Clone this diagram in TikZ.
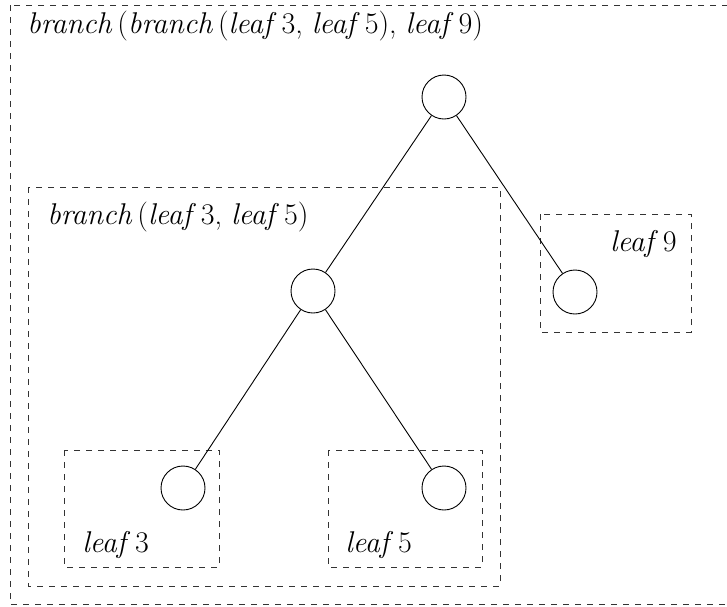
\documentclass[tikz,border=0pt]{standalone}
\usepackage{fontspec}
\usepackage{tikz}
\usetikzlibrary{positioning}

\newcommand{\fn}[1]{\textit{#1}\,}

\begin{document}
\begin{tikzpicture}[x=1pt,y=-1pt,semithick,
        vertex/.style={circle, draw, line width=0.9pt, minimum size=44pt, inner sep=0pt},
        frame/.style={draw=black!80, line width=0.6pt, dash pattern=on 6pt off 6pt},
        tag/.style={inner sep=0pt, font=\fontsize{30}{36}\selectfont}]

        \useasboundingbox (0,0) rectangle (727,606);

        % boxes
        \draw[frame] (10,5)    rectangle (760,604);
        \draw[frame] (28,187)  rectangle (500,586);
        \draw[frame] (64,450)  rectangle (219,567);
        \draw[frame] (328,450) rectangle (482,567);
        \draw[frame] (540,214) rectangle (691,332);

        % labels
        \node[tag, anchor=base west] (t0) at (27,33)  {\fn{branch}(\fn{branch}(\fn{leaf}3, \fn{leaf}5), \fn{leaf}9)};
        \node[tag, anchor=base west] (t1) at (47,224) {\fn{branch}(\fn{leaf}3, \fn{leaf}5)};
        \node[tag, anchor=base east] (t9) at (677,251) {\fn{leaf}9};
        \node[tag, anchor=base west] (t3) at (82,552)  {\fn{leaf}3};
        \node[tag, anchor=base west] (t5) at (345,552) {\fn{leaf}5};

        % tree
        \node[vertex] (root) at (444,97)  {};
        \node[vertex] (mid)  at (313,291) {};
        \node[vertex] (l9)   at (575,292) {};
        \node[vertex] (l3)   at (183,488) {};
        \node[vertex] (l5)   at (444,488) {};

        \draw[line width=0.9pt] (root) -- (mid)
                                (root) -- (l9)
                                (mid)  -- (l3)
                                (mid)  -- (l5);

\end{tikzpicture}
\end{document}
